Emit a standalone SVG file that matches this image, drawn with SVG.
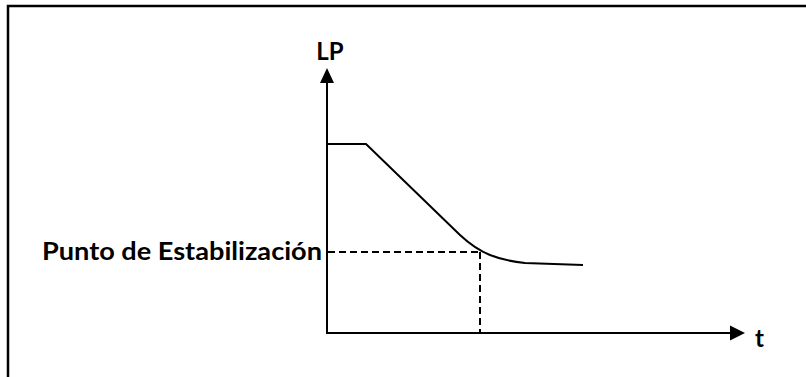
<svg xmlns="http://www.w3.org/2000/svg" width="806" height="377" viewBox="0 0 806 377">
<style>
.lbl{font-family:Lato,"Open Sans","Liberation Sans",sans-serif;font-weight:bold;font-size:24px;fill:#000}
.ax{stroke:#000;stroke-width:2;fill:none}
.dash{stroke:#000;stroke-width:2;fill:none;stroke-dasharray:7 4}
</style>
<rect width="806" height="377" fill="#fff"/>
<g id="frame">
<polyline points="8,377 8,6 806,6" fill="none" stroke="#000" stroke-width="2.5"/>
</g>
<g id="connectors">
<line class="ax" x1="327" y1="334" x2="327" y2="82"/>
<polygon points="327,68 320,83 334,83" fill="#000"/>
<line class="ax" x1="326" y1="333" x2="731" y2="333"/>
<polygon points="745,333 730,325.5 730,340.5" fill="#000"/>
<line class="dash" x1="328" y1="252" x2="480" y2="252"/>
<line class="dash" x1="480" y1="252" x2="480" y2="333"/>
<path class="ax" d="M327,144 H366 L460,235 Q475,249 490,255 Q505,261 525,263 L583,265"/>
</g>
<g id="label-lp"><text class="lbl" x="330" y="60" text-anchor="middle">LP</text></g>
<g id="label-t"><text class="lbl" x="755" y="347">t</text></g>
<g id="label-punto"><text class="lbl" x="42" y="260" textLength="280" lengthAdjust="spacingAndGlyphs">Punto de Estabilización</text></g>
</svg>
